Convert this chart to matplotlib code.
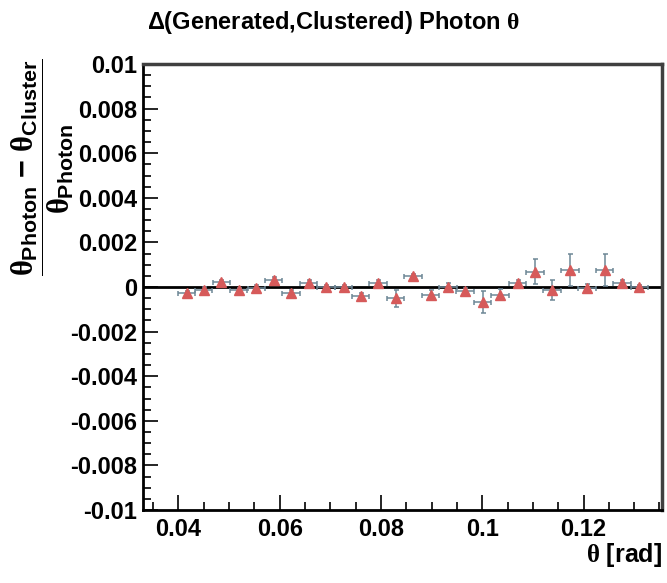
import numpy as np
import matplotlib
matplotlib.use('Agg')
import matplotlib.pyplot as plt
from matplotlib.ticker import MultipleLocator, FuncFormatter

# ----------------------------------------------------------------------------------------------------------------------
# Datos (centro de bin, valor relativo y errores)
# ----------------------------------------------------------------------------------------------------------------------
theta = [0.0416, 0.0450, 0.0485, 0.0519, 0.0554, 0.0588, 0.0622, 0.0657, 0.0691, 0.0726, 0.0760, 0.0794, 0.0829,
         0.0863, 0.0898, 0.0932, 0.0966, 0.1001, 0.1035, 0.1070, 0.1104, 0.1138, 0.1173, 0.1207, 0.1242, 0.1276,
         0.1310]
delta = [-0.00027, -0.00012, 0.00021, -0.00015, -0.00003, 0.00033, -0.00027, 0.00020, 0.0, 0.0, -0.00042, 0.00018,
         -0.00051, 0.00048, -0.00036, -0.00002, -0.00017, -0.00069, -0.00034, 0.00018, 0.00068, -0.00013, 0.00076,
         -0.00005, 0.00076, 0.00018, 0.0]
delta_err = [0.00010, 0.00010, 0.00012, 0.00010, 0.00010, 0.00012, 0.00012, 0.00012, 0.00010, 0.00010, 0.00014,
             0.00012, 0.00037, 0.00012, 0.00022, 0.00020, 0.00012, 0.00049, 0.00023, 0.00012, 0.00056, 0.00045,
             0.00070, 0.00018, 0.00072, 0.00012, 0.00010]
half_bin = 0.00172

plt.rcParams['font.family'] = ['Liberation Sans', 'DejaVu Sans']
plt.rcParams['font.weight'] = 'bold'
plt.rcParams['mathtext.fontset'] = 'custom'
plt.rcParams['mathtext.it'] = 'Liberation Serif'
plt.rcParams['mathtext.rm'] = 'Liberation Sans'
plt.rcParams['mathtext.bf'] = 'Liberation Sans:bold'

fig = plt.figure(figsize=(6.67, 5.83), dpi=100)
ax = fig.add_axes([0.2144, 0.1252, 0.7781, 0.7650])

ax.axhline(0, color='black', lw=2, zorder=2)
ax.errorbar(theta, delta, xerr=half_bin, yerr=delta_err, fmt='^', color='#d65a5a', markersize=6.5,
            ecolor='#6e8796', elinewidth=1.1, capsize=1.8, capthick=1.1, zorder=3)

ax.set_xlim(0.033, 0.1355)
ax.set_ylim(-0.01, 0.01)
ax.xaxis.set_major_locator(MultipleLocator(0.02))
ax.xaxis.set_minor_locator(MultipleLocator(0.005))
ax.yaxis.set_major_locator(MultipleLocator(0.002))
ax.yaxis.set_minor_locator(MultipleLocator(0.0005))
fmt = FuncFormatter(lambda v, p: '0' if abs(v) < 1e-9 else '%g' % v)
ax.xaxis.set_major_formatter(fmt)
ax.yaxis.set_major_formatter(fmt)
ax.tick_params(which='both', direction='in', top=False, right=False, labelsize=17, width=1.2)
ax.tick_params(which='major', length=11)
ax.tick_params(which='minor', length=6)
ax.tick_params(axis='x', which='major', pad=6)
ax.tick_params(axis='y', which='major', pad=4)

for s in ['left', 'bottom']:
    ax.spines[s].set_linewidth(2)
    ax.spines[s].set_color('black')
for s in ['top', 'right']:
    ax.spines[s].set_linewidth(2.5)
    ax.spines[s].set_color('#404040')

fig.text(0.5, 0.962, r'$\Delta$(Generated,Clustered) Photon $\theta$', ha='center', va='center',
         fontsize=17, fontweight='bold')
fig.text(0.064, 0.712,
         r'$\dfrac{\theta_{\mathbf{Photon}}\ \mathbf{-}\ \theta_{\mathbf{Cluster}}}{\theta_{\mathbf{Photon}}}$',
         rotation=90, ha='center', va='center', fontsize=22)
fig.text(0.993, 0.048, r'$\theta$ [rad]', ha='right', va='center', fontsize=18, fontweight='bold')

fig.savefig('out.png', dpi=100)
